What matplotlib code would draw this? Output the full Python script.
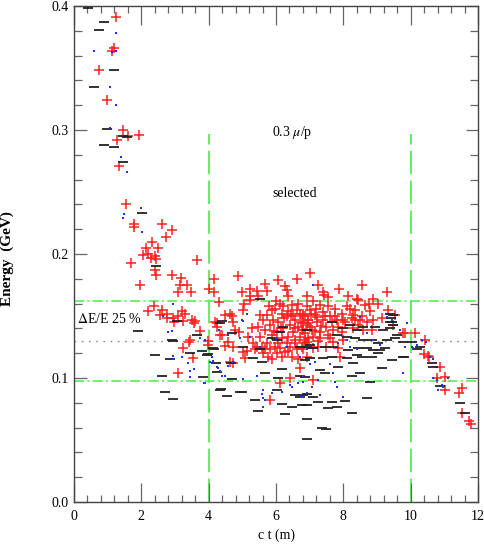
import matplotlib
matplotlib.use("Agg")
import matplotlib.pyplot as plt
from matplotlib.ticker import MultipleLocator

plt.rcParams['font.family'] = ['Liberation Serif', 'DejaVu Serif']
plt.rcParams['mathtext.fontset'] = 'stix'

red_x = [1.24,1.20,1.14,0.73,0.97,1.46,1.29,1.61,1.92,1.33,1.53,1.79,1.77,2.60,2.91,2.72,2.33,2.14,2.49,2.06,2.20,2.30,2.45,2.40,1.68,3.66,2.41,2.43,2.92,3.19,3.15,3.37,3.49,3.10,1.96,4.17,4.00,4.16,4.87,4.31,
         2.19,2.39,2.60,2.55,2.75,2.77,2.95,3.10,3.20,3.25,3.30,2.98,3.50,3.60,3.55,3.74,3.45,3.42,3.25,3.52,3.10,3.99,3.97,4.19,4.26,4.39,
         4.98,5.23,5.23,5.44,5.47,5.67,5.72,6.07,6.27,6.32,6.63,6.37,5.05,5.03,5.23,4.63,4.68,4.48,4.26,4.34,4.73,4.78,4.91,5.28,5.52,5.62,
         5.72,5.87,5.92,5.97,6.07,6.12,6.17,6.22,6.32,6.37,6.47,6.51,6.56,6.61,6.71,6.81,6.91,6.96,
         4.48,4.58,4.73,4.63,4.73,5.03,5.08,5.13,
         5.33,5.38,5.43,5.57,5.62,5.67,5.72,5.77,5.87,5.82,5.97,6.02,6.12,6.17,6.27,6.32,6.37,6.42,6.47,6.51,6.56,6.61,6.71,6.76,6.81,6.86,6.96,
         6.12,6.42,6.71,5.82,6.66,
         5.47,5.67,5.82,6.02,6.22,6.42,6.66,6.91,5.18,5.52,5.87,6.17,
         7.01,7.26,7.40,7.42,7.88,8.54,9.29,6.91,7.11,7.55,8.15,8.42,8.45,8.87,9.04,
         8.64,8.35,8.10,7.75,7.55,7.31,7.01,6.81,7.16,7.41,7.95,
         9.34,9.53,9.14,
         8.89,8.69,8.49,8.25,8.05,7.80,7.60,7.41,7.21,6.96,6.81,6.76,
         9.78,9.49,
         8.84,8.59,8.30,7.95,7.70,7.50,7.31,7.06,6.86,
         7.11,7.31,6.91,7.60,7.70,8.00,
         6.81,7.11,7.26,7.50,7.85,7.90,
         6.91,7.11,7.21,7.01,8.30,8.45,8.79,
         6.86,6.95,7.05,7.15,7.20,7.35,7.45,7.55,7.65,7.75,7.85,8.00,8.20,8.35,8.55,8.75,
         6.00,6.15,6.25,6.45,6.55,6.65,6.75,5.80,5.95,6.05,6.35,6.55,6.85,7.25,
         9.83,10.13,10.43,10.40,10.52,10.55,10.87,10.77,11.02,11.02,11.44,11.51,11.53,11.74,11.80]
red_y = [0.391,0.366,0.364,0.348,0.324,0.300,0.292,0.295,0.296,0.271,0.240,0.224,0.222,0.224,0.219,0.214,0.210,0.205,0.205,0.199,0.200,0.197,0.196,0.198,0.193,0.195,0.187,0.183,0.183,0.181,0.175,0.175,0.169,0.169,0.175,0.180,0.172,0.169,0.182,0.161,
         0.154,0.158,0.155,0.151,0.152,0.148,0.148,0.150,0.154,0.146,0.152,0.145,0.147,0.146,0.144,0.138,0.131,0.129,0.124,0.116,0.104,0.130,0.127,0.145,0.141,0.135,
         0.169,0.172,0.166,0.170,0.166,0.176,0.170,0.179,0.174,0.171,0.180,0.166,0.160,0.155,0.163,0.152,0.150,0.151,0.144,0.135,0.145,0.139,0.137,0.140,0.151,0.147,
         0.151,0.155,0.147,0.156,0.145,0.160,0.152,0.158,0.150,0.154,0.159,0.150,0.147,0.155,0.152,0.150,0.158,0.147,
         0.126,0.129,0.125,0.113,0.112,0.121,0.116,0.122,
         0.128,0.123,0.125,0.125,0.120,0.123,0.128,0.117,0.115,0.123,0.125,0.120,0.124,0.117,0.121,0.128,0.133,0.125,0.117,0.137,0.131,0.123,0.133,0.125,0.139,0.131,0.132,
         0.096,0.100,0.108,0.082,0.115,
         0.141,0.139,0.143,0.137,0.140,0.143,0.141,0.143,0.133,0.133,0.135,0.132,
         0.185,0.175,0.169,0.167,0.172,0.175,0.169,0.166,0.162,0.165,0.166,0.164,0.163,0.164,0.160,
         0.159,0.155,0.158,0.156,0.158,0.159,0.155,0.152,0.151,0.153,0.152,
         0.155,0.151,0.148,
         0.147,0.145,0.147,0.148,0.145,0.147,0.150,0.147,0.145,0.147,0.144,0.139,
         0.136,0.143,
         0.139,0.139,0.140,0.137,0.139,0.141,0.137,0.139,0.136,
         0.133,0.132,0.129,0.132,0.129,0.131,
         0.123,0.124,0.125,0.125,0.124,0.117,
         0.117,0.098,0.149,0.141,0.151,0.143,0.154,
         0.150,0.144,0.152,0.138,0.156,0.142,0.150,0.135,0.145,0.150,0.141,0.147,0.156,0.147,0.150,0.160,
         0.162,0.140,0.148,0.152,0.140,0.160,0.145,0.158,0.138,0.128,0.122,0.128,0.128,0.130,
         0.136,0.136,0.131,0.119,0.118,0.117,0.109,0.100,0.101,0.090,0.088,0.092,0.072,0.065,0.063]

black_x = [0.41,0.90,0.74,1.19,0.60,0.97,1.45,1.57,0.90,1.20,1.45,2.03,2.44,
           1.91,2.41,2.62,2.70,2.95,2.85,2.91,2.95,3.05,3.45,3.64,3.84,3.79,3.96,4.16,4.24,4.37,4.55,4.68,4.93,4.39,5.38,5.47,5.52,
           4.34,4.68,3.99,4.14,4.23,4.66,4.34,4.98,5.03,5.33,5.57,5.67,6.07,6.02,6.17,6.27,6.47,6.57,6.71,6.76,6.91,6.91,6.91,
           6.12,6.02,6.17,6.71,5.87,6.22,6.71,6.91,7.01,5.52,
           7.65,8.00,8.20,8.40,8.59,8.94,9.19,9.39,9.48,9.44,
           7.80,8.10,8.35,8.59,8.84,9.04,9.29,9.53,9.78,
           6.91,7.11,7.45,7.70,8.15,8.45,8.69,8.89,9.09,9.24,
           6.86,7.01,7.41,7.65,8.10,8.40,8.54,8.84,9.04,9.46,9.78,
           6.86,7.31,7.45,7.85,8.25,8.49,8.79,9.14,8.30,
           6.81,7.11,7.26,6.91,7.55,7.65,7.80,8.05,8.25,8.69,
           7.36,7.50,
           9.39,9.43,9.39,9.49,9.58,10.05,10.28,10.18,10.62,10.67,9.80,10.87,11.46,11.61]
black_y = [0.398,0.387,0.381,0.348,0.335,0.301,0.2955,0.2945,0.288,0.286,0.274,0.233,0.190,
           0.138,0.1185,0.102,0.089,0.083,0.115,0.131,0.130,0.146,0.120,0.135,0.101,0.122,0.1185,0.123,0.105,0.091,0.0855,0.099,0.089,0.146,0.082,0.0736,0.164,
           0.144,0.136,0.119,0.124,0.112,0.112,0.090,0.089,0.125,0.116,0.113,0.104,0.100,0.090,0.079,0.071,0.077,0.086,0.085,0.078,0.087,0.067,0.051,
           0.137,0.131,0.107,0.102,0.132,0.141,0.125,0.139,0.127,0.123,
           0.1454,0.140,0.1427,0.1387,0.1414,0.1414,0.1387,0.140,0.1508,0.1454,
           0.1347,0.1333,0.132,0.1306,0.1306,0.128,0.1306,0.132,0.1293,
           0.1253,0.124,0.1253,0.1253,0.1226,0.124,0.124,0.1226,0.1226,0.124,
           0.1145,0.1158,0.1158,0.1172,0.1158,0.1185,0.1172,0.1172,0.1199,0.1145,0.1172,
           0.101,0.1064,0.1037,0.109,0.1016,0.1037,0.097,0.1078,0.1118,
           0.0863,0.085,0.081,0.0782,0.0755,0.081,0.0769,0.0817,0.072,0.0836,
           0.0599,0.0588,
           0.152,0.148,0.145,0.143,0.135,0.129,0.125,0.123,0.112,0.109,0.117,0.0935,0.080,0.072]

blue_x = [1.26,0.60,1.14,1.26,1.08,1.25,1.06,1.39,1.56,1.99,1.50,1.45,2.02,
          2.93,2.65,2.80,2.90,2.95,2.95,3.20,3.40,3.45,3.55,3.45,3.86,3.74,3.89,4.04,4.14,4.24,4.34,4.41,4.98,5.13,5.23,5.52,5.62,5.57,
          4.32,4.58,4.93,4.09,4.29,4.48,4.73,4.58,3.89,5.01,5.43,5.62,5.87,6.17,6.42,6.47,6.71,6.66,6.91,6.81,5.62,5.67,6.02,6.32,6.71,6.91,5.01,
          7.11,7.85,8.10,8.49,8.69,8.89,9.29,9.44,9.68,9.88,9.83,7.01,7.16,7.60,7.70,6.81,7.26,7.75,7.80,7.31,6.81,8.00,7.06,8.20,8.40,9.09,
          10.03,10.08,10.18,10.67,10.77,10.92,10.97,11.12,10.82,9.78,10.33,10.47,10.57,10.67]
blue_y = [0.378,0.364,0.363,0.364,0.335,0.320,0.302,0.278,0.266,0.237,0.232,0.229,0.218,
          0.160,0.150,0.137,0.138,0.118,0.115,0.117,0.112,0.106,0.107,0.101,0.096,0.132,0.131,0.113,0.114,0.109,0.106,0.102,0.147,0.152,0.133,0.125,0.084,0.087,
          0.139,0.135,0.132,0.117,0.108,0.102,0.113,0.110,0.096,0.099,0.102,0.090,0.088,0.089,0.094,0.093,0.085,0.096,0.088,0.097,0.077,0.082,0.132,0.125,0.117,0.123,0.146,
          0.175,0.128,0.131,0.149,0.136,0.131,0.149,0.147,0.139,0.144,0.125,0.111,0.113,0.111,0.104,0.102,0.098,0.097,0.093,0.086,0.085,0.085,0.093,0.125,0.123,0.127,
          0.125,0.124,0.127,0.100,0.098,0.094,0.093,0.100,0.090,0.104,0.131,0.129,0.117,0.115]

cut_x = [4.0, 10.0]
cut_top = 0.297
band_y = [0.162, 0.0976]
mean_y = 0.130

fig = plt.figure(figsize=(4.85, 5.54), dpi=100)
ax = fig.add_axes([74/485, 1-502/554, 404/485, 496/554])

green = '#55ee55'
for cx in cut_x:
    ax.plot([cx, cx], [0, cut_top], color=green, lw=1.3, dashes=(13, 3.5), zorder=1)
for by in band_y:
    ax.plot([0, 12], [by, by], color=green, lw=1.2, dashes=(6, 2, 1.2, 2), zorder=1)
ax.plot([0, 12], [mean_y, mean_y], color='#888888', lw=1.0, dashes=(1.2, 4), zorder=1)

ax.plot(red_x, red_y, linestyle='none', marker='+', ms=7.5, mew=1.1, color='#ff2020', zorder=3)
ax.plot(black_x, black_y, linestyle='none', marker='_', ms=7, mew=1.3, color='#222222', zorder=4)
ax.plot(blue_x, blue_y, linestyle='none', marker='s', ms=1.5, mew=0, color='#2233ee', zorder=5)

ax.text(5.88, 0.298, r'0.3 $\mu$/p', fontsize=10, va='center', ha='left')
ax.text(5.88, 0.249, 'selected', fontsize=10, va='center', ha='left')
ax.text(0.09, 0.1476, r'$\Delta$E/E 25 %', fontsize=10, va='center', ha='left')

ax.set_xlim(0, 12)
ax.set_ylim(0, 0.4)
ax.xaxis.set_major_locator(MultipleLocator(2))
ax.xaxis.set_minor_locator(MultipleLocator(0.4))
ax.yaxis.set_major_locator(MultipleLocator(0.1))
ax.yaxis.set_minor_locator(MultipleLocator(0.02))
ax.xaxis.set_major_formatter(plt.FuncFormatter(lambda v, p: f'{v:.0f}'))
ax.yaxis.set_major_formatter(plt.FuncFormatter(lambda v, p: f'{v:.1f}'))

ax.tick_params(axis='both', which='both', direction='in', top=True, right=True,
               color='#666666', width=0.9, labelsize=10)
ax.tick_params(axis='x', which='major', length=14, pad=6)
ax.tick_params(axis='x', which='minor', length=5)
ax.tick_params(axis='y', which='major', length=9, pad=4)
ax.tick_params(axis='y', which='minor', length=6)
for s in ax.spines.values():
    s.set_color('#444444')
    s.set_linewidth(1.0)

ax.set_xlabel('c t (m)', fontsize=10, labelpad=4)
ax.set_ylabel('Energy  (GeV)', fontsize=11, fontweight='bold')
ax.yaxis.set_label_coords(-0.148, 0.49)

fig.savefig('out.png', dpi=100)
